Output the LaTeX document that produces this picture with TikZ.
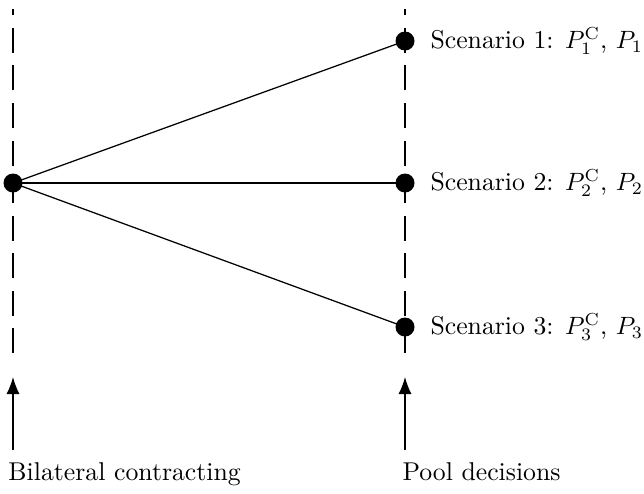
\documentclass[tikz,border=0pt]{standalone}
\usetikzlibrary{arrows.meta}
\begin{document}
\begin{tikzpicture}[x=0.4pt,y=-0.4pt,
  every node/.style={font=\fontsize{10.3pt}{12.4pt}\selectfont},
  stage/.style={line width=0.5pt,dash pattern=on 10pt off 5pt},
  branch/.style={line width=0.5pt},
  pointer/.style={line width=0.5pt,-{Latex[length=6.8pt,width=5.2pt]}},
  dot/.style={circle,fill=black,inner sep=0pt,minimum size=7.6pt},
  scen/.style={anchor=west,inner sep=0pt},
  caption/.style={anchor=base west,inner sep=0pt}]
  \useasboundingbox (0,0) rectangle (644,493);

  % time lines, dashed from the bottom upwards
  \coordinate (lt) at (13,9);
  \coordinate (lb) at (13,353);
  \coordinate (rt) at (405,9);
  \coordinate (rb) at (405,353);
  \draw[stage] (lb) -- (lt);
  \draw[stage] (rb) -- (rt);

  % decision points
  \node[dot] (root) at (13,183) {};
  \node[dot] (s1) at (405,41) {};
  \node[dot] (s2) at (405,183) {};
  \node[dot] (s3) at (405,327) {};

  \draw[branch] (root.center) -- (s1.center);
  \draw[branch] (root.center) -- (s2.center);
  \draw[branch] (root.center) -- (s3.center);

  \node[scen] (l1) at (430,41) {Scenario 1: $P_1^{\mathrm{C}}$, $P_1$};
  \node[scen] (l2) at (430,183) {Scenario 2: $P_2^{\mathrm{C}}$, $P_2$};
  \node[scen] (l3) at (430,327) {Scenario 3: $P_3^{\mathrm{C}}$, $P_3$};

  % stage markers
  \coordinate (la) at (13,450);
  \coordinate (lh) at (13,377);
  \coordinate (ra) at (405,450);
  \coordinate (rh) at (405,377);
  \draw[pointer] (la) -- (lh);
  \draw[pointer] (ra) -- (rh);

  \node[caption] (c1) at (8,480) {Bilateral contracting};
  \node[caption] (c2) at (402,480) {Pool decisions};
\end{tikzpicture}
\end{document}
